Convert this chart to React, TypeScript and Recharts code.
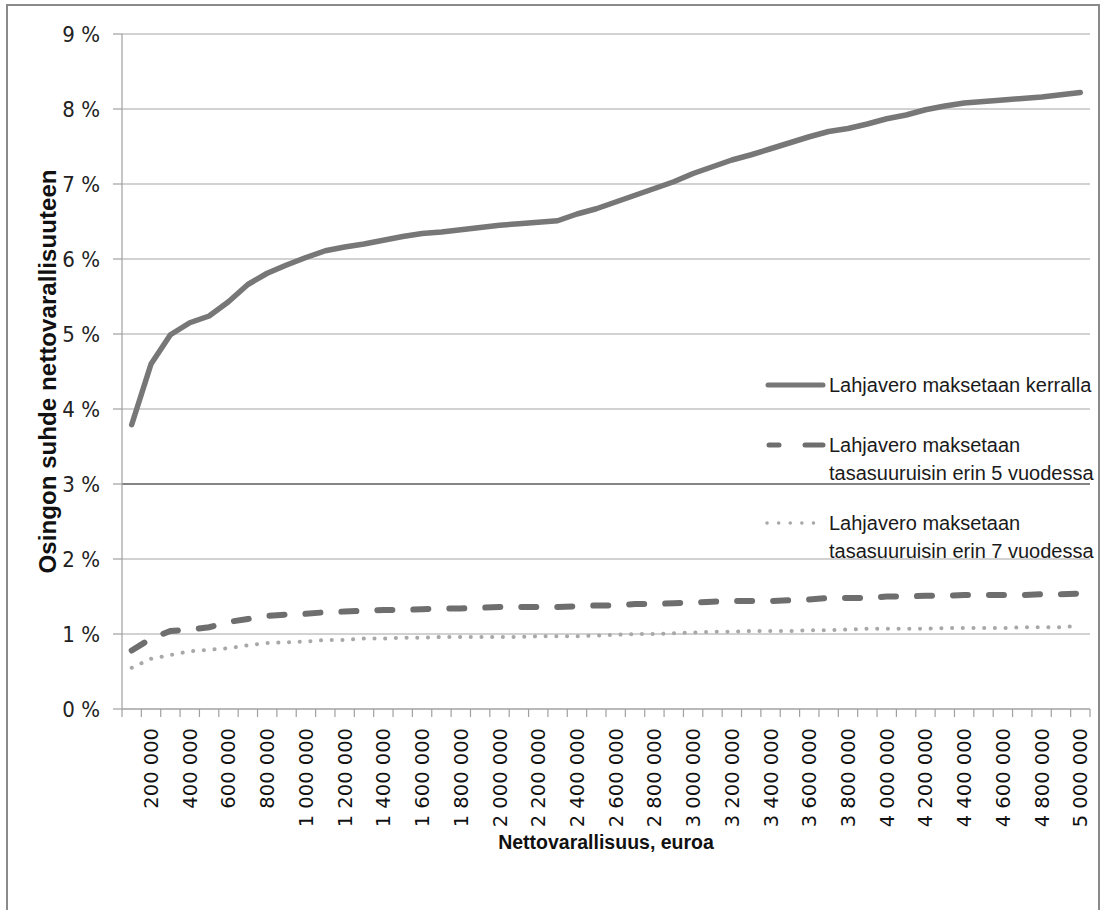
import { LineChart, Line, XAxis, YAxis, CartesianGrid, Label, ReferenceLine } from 'recharts';

// Nettovarallisuus, euroa (categories)
const wealth = [
  100000, 200000, 300000, 400000, 500000, 600000, 700000, 800000, 900000, 1000000,
  1100000, 1200000, 1300000, 1400000, 1500000, 1600000, 1700000, 1800000, 1900000, 2000000,
  2100000, 2200000, 2300000, 2400000, 2500000, 2600000, 2700000, 2800000, 2900000, 3000000,
  3100000, 3200000, 3300000, 3400000, 3500000, 3600000, 3700000, 3800000, 3900000, 4000000,
  4100000, 4200000, 4300000, 4400000, 4500000, 4600000, 4700000, 4800000, 4900000, 5000000,
];

// Osingon suhde nettovarallisuuteen, %
const kerralla = [
  3.79, 4.6, 4.99, 5.15, 5.24, 5.43, 5.66, 5.81, 5.92, 6.02,
  6.11, 6.16, 6.2, 6.25, 6.3, 6.34, 6.36, 6.39, 6.42, 6.45,
  6.47, 6.49, 6.51, 6.6, 6.67, 6.76, 6.85, 6.94, 7.03, 7.14,
  7.23, 7.32, 7.39, 7.47, 7.55, 7.63, 7.7, 7.74, 7.8, 7.87,
  7.92, 7.99, 8.04, 8.08, 8.1, 8.12, 8.14, 8.16, 8.19, 8.22,
];

const vuotta5 = [
  0.78, 0.94, 1.04, 1.06, 1.09, 1.16, 1.2, 1.24, 1.26, 1.27,
  1.29, 1.3, 1.31, 1.32, 1.32, 1.33, 1.34, 1.34, 1.35, 1.36,
  1.36, 1.36, 1.36, 1.37, 1.38, 1.38, 1.4, 1.4, 1.41, 1.42,
  1.43, 1.44, 1.44, 1.44, 1.45, 1.46, 1.48, 1.48, 1.48, 1.5,
  1.5, 1.51, 1.51, 1.52, 1.52, 1.52, 1.52, 1.53, 1.53, 1.54,
];

const vuotta7 = [
  0.55, 0.67, 0.72, 0.77, 0.79, 0.81, 0.85, 0.88, 0.89, 0.9,
  0.92, 0.92, 0.94, 0.94, 0.95, 0.95, 0.96, 0.96, 0.96, 0.96,
  0.96, 0.97, 0.97, 0.97, 0.98, 0.99, 1.0, 1.0, 1.01, 1.02,
  1.03, 1.03, 1.04, 1.04, 1.04, 1.05, 1.05, 1.06, 1.07, 1.07,
  1.07, 1.07, 1.08, 1.08, 1.08, 1.08, 1.09, 1.09, 1.09, 1.11,
];

const xLabelTicks = [
  200000, 400000, 600000, 800000, 1000000, 1200000, 1400000, 1600000, 1800000, 2000000,
  2200000, 2400000, 2600000, 2800000, 3000000, 3200000, 3400000, 3600000, 3800000, 4000000,
  4200000, 4400000, 4600000, 4800000, 5000000,
];

const yTicks = [0, 1, 2, 3, 4, 5, 6, 7, 8, 9];

const seriesNames = [
  'Lahjavero maksetaan kerralla',
  'Lahjavero maksetaan tasasuuruisin erin 5 vuodessa',
  'Lahjavero maksetaan tasasuuruisin erin 7 vuodessa',
];

const data = wealth.map((w, i) => ({
  x: w,
  kerralla: kerralla[i],
  v5: vuotta5[i],
  v7: vuotta7[i],
}));

// tick marks sit between categories, labels on every second category
const boundaryTicks = [wealth[0] - 50000, ...wealth.map((w) => w + 50000)];
const allXTicks = [...boundaryTicks, ...xLabelTicks].sort((a, b) => a - b);

const narrow = "'Liberation Sans Narrow', 'DejaVu Sans Condensed', 'Liberation Sans', sans-serif";

function fmtNum(v: number) {
  return String(v).replace(/\B(?=(\d{3})+(?!\d))/g, ' ');
}

function XTick(props: any) {
  const { x, y, payload } = props;
  const v = payload.value;
  if (v % 100000 === 50000) {
    return <line x1={x} x2={x} y1={y - 8} y2={y} stroke="#a0a0a0" strokeWidth={1.2} />;
  }
  const ty = y + 11;
  return (
    <text
      x={x}
      y={ty}
      transform={`rotate(-90, ${x}, ${ty})`}
      textAnchor="end"
      dy="0.36em"
      fill="#111"
      fontSize={19.5}
      fontFamily="'DejaVu Sans', sans-serif"
    >
      {fmtNum(v)}
    </text>
  );
}

function XTitle(props: any) {
  const vb = props.viewBox;
  return (
    <text
      x={vb.x + vb.width / 2}
      y={vb.y + 133}
      textAnchor="middle"
      dominantBaseline="central"
      fontWeight="bold"
      fontSize={19.5}
      fill="#111"
      fontFamily="'Liberation Sans', sans-serif"
    >
      Nettovarallisuus, euroa
    </text>
  );
}

function YTitle(props: any) {
  const vb = props.viewBox;
  const cx = 47;
  const cy = vb.y + vb.height / 2;
  return (
    <text
      x={cx}
      y={cy}
      transform={`rotate(-90, ${cx}, ${cy})`}
      textAnchor="middle"
      dominantBaseline="central"
      fontWeight="bold"
      fontSize={24}
      textLength={404}
      lengthAdjust="spacing"
      fill="#111"
      fontFamily="'Liberation Sans', sans-serif"
    >
      Osingon suhde nettovarallisuuteen
    </text>
  );
}

function LegendBox() {
  const textStyle: React.CSSProperties = {
    position: 'absolute',
    left: 66,
    fontFamily: "'Liberation Sans', sans-serif",
    fontSize: 20,
    lineHeight: '28px',
    color: '#1a1a1a',
    whiteSpace: 'nowrap',
  };
  return (
    <div style={{ position: 'absolute', left: 763, top: 360, width: 345, height: 210 }}>
      <svg style={{ position: 'absolute', left: 0, top: 20 }} width={64} height={10}>
        <line x1={5} x2={60} y1={5} y2={5} stroke="#777" strokeWidth={5} strokeLinecap="round" />
      </svg>
      <div style={{ ...textStyle, top: 11 }}>{seriesNames[0]}</div>

      <svg style={{ position: 'absolute', left: 0, top: 80 }} width={64} height={10}>
        <line x1={6} x2={16} y1={5} y2={5} stroke="#6e6e6e" strokeWidth={5} strokeLinecap="round" />
        <line x1={42} x2={60} y1={5} y2={5} stroke="#6e6e6e" strokeWidth={5} strokeLinecap="round" />
      </svg>
      <div style={{ ...textStyle, top: 71 }}>
        Lahjavero maksetaan
        <br />
        tasasuuruisin erin 5 vuodessa
      </div>

      <svg style={{ position: 'absolute', left: 0, top: 158 }} width={64} height={10}>
        <line x1={4} x2={62} y1={5} y2={5} stroke="#a8a8a8" strokeWidth={3.5} strokeLinecap="round" strokeDasharray="0.1 11.5" />
      </svg>
      <div style={{ ...textStyle, top: 149 }}>
        Lahjavero maksetaan
        <br />
        tasasuuruisin erin 7 vuodessa
      </div>
    </div>
  );
}

export default function App() {
  return (
    <div style={{ position: 'absolute', left: 0, top: 0, width: 1106, height: 910, background: '#fff' }}>
      <div
        style={{
          position: 'absolute',
          left: 6,
          top: 4,
          width: 1094,
          height: 906,
          borderTop: '2px solid #8a8a8a',
          borderLeft: '2px solid #8a8a8a',
          borderRight: '2px solid #8a8a8a',
          boxSizing: 'border-box',
        }}
      />
      <div style={{ position: 'absolute', left: 0, top: 0 }}>
        <LineChart width={1106} height={910} data={data} margin={{ top: 34, right: 16, left: 0, bottom: 0 }}>
          <CartesianGrid vertical={false} stroke="#a6a6a6" strokeWidth={1.2} />
          <ReferenceLine y={3} stroke="#6a6a6a" strokeWidth={1.4} />
          <XAxis
            dataKey="x"
            type="number"
            domain={[50000, 5050000]}
            ticks={allXTicks}
            interval={0}
            tickLine={false}
            tickSize={8}
            tickMargin={0}
            tick={<XTick />}
            height={201}
            axisLine={{ stroke: '#a0a0a0', strokeWidth: 1.2 }}
          >
            <Label content={<XTitle />} />
          </XAxis>
          <YAxis
            type="number"
            domain={[0, 9]}
            ticks={yTicks}
            interval={0}
            width={122}
            tickSize={9}
            tickMargin={13}
            tickFormatter={(v: number) => `${v} %`}
            tick={{ fill: '#222', fontSize: 22, fontFamily: narrow }}
            tickLine={{ stroke: '#a0a0a0', strokeWidth: 1.2 }}
            axisLine={{ stroke: '#a0a0a0', strokeWidth: 1.2 }}
          >
            <Label content={<YTitle />} />
          </YAxis>
          <Line
            type="linear"
            dataKey="kerralla"
            name={seriesNames[0]}
            stroke="#777"
            strokeWidth={5.5}
            strokeLinecap="round"
            strokeLinejoin="round"
            dot={false}
            activeDot={false}
            isAnimationActive={false}
          />
          <Line
            type="linear"
            dataKey="v5"
            name={seriesNames[1]}
            stroke="#6e6e6e"
            strokeWidth={6}
            strokeDasharray="15 21"
            strokeLinecap="round"
            dot={false}
            activeDot={false}
            isAnimationActive={false}
          />
          <Line
            type="linear"
            dataKey="v7"
            name={seriesNames[2]}
            stroke="#a8a8a8"
            strokeWidth={4}
            strokeDasharray="0.1 10.6"
            strokeLinecap="round"
            dot={false}
            activeDot={false}
            isAnimationActive={false}
          />
        </LineChart>
      </div>
      <LegendBox />
    </div>
  );
}
